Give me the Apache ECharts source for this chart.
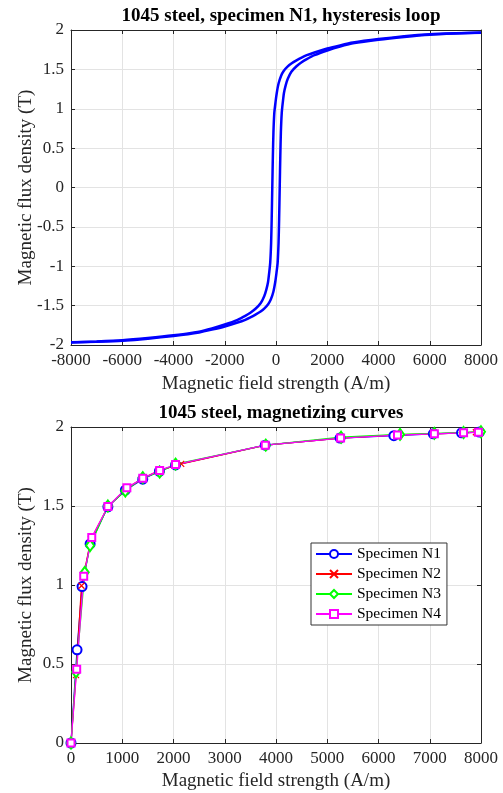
<!DOCTYPE html>
<html>
<head>
<meta charset="utf-8">
<title>1045 steel</title>
<script src="https://cdn.jsdelivr.net/npm/echarts@6/dist/echarts.min.js"></script>
<style>
  html, body { margin: 0; padding: 0; background: #fff; }
  #chart { width: 503px; height: 793px; }
</style>
</head>
<body>
<div id="chart"></div>
<script>
// hysteresis loop, specimen N1
const descH = [8000, 7000, 6000, 5000, 4000, 3000, 2500, 2000, 1500, 1200, 1000, 800, 600, 450, 300, 200, 100, 30, -20, -65, -100, -122, -145,
  -168, -190, -225, -265, -310, -380, -460, -600, -800, -1000, -1200, -1500, -2000, -2500, -3000, -4000, -5000, -6000, -7000, -8000];
const descB = [1.968, 1.958, 1.945, 1.92, 1.885, 1.84, 1.805, 1.765, 1.715, 1.68, 1.65, 1.615, 1.575, 1.535, 1.48, 1.42, 1.32, 1.2, 1.08, 0.95, 0.7, 0.4, 0,
  -0.4, -0.7, -0.95, -1.08, -1.2, -1.3, -1.38, -1.47, -1.54, -1.59, -1.63, -1.68, -1.74, -1.79, -1.83, -1.877, -1.912, -1.94, -1.955, -1.966];
const ascH = [-8000, -7000, -6000, -5000, -4000, -3000, -2500, -2000, -1500, -1200, -1000, -800, -600, -450, -300, -200, -100, -30, 20, 65, 100, 122, 145,
  168, 190, 225, 265, 310, 380, 460, 600, 800, 1000, 1200, 1500, 2000, 2500, 3000, 4000, 5000, 6000, 7000, 8000];
const ascB = [-1.968, -1.958, -1.945, -1.92, -1.885, -1.84, -1.805, -1.765, -1.715, -1.68, -1.65, -1.615, -1.575, -1.535, -1.48, -1.42, -1.32, -1.2, -1.08, -0.95, -0.7, -0.4, 0,
  0.4, 0.7, 0.95, 1.08, 1.2, 1.3, 1.38, 1.47, 1.54, 1.59, 1.63, 1.68, 1.74, 1.79, 1.83, 1.877, 1.912, 1.94, 1.955, 1.966];

// magnetizing curves
const n1H = [0, 118, 216, 373, 720, 1060, 1400, 1725, 2040, 3790, 5250, 6300, 7070, 7620, 7970];
const n1B = [0, 0.59, 0.99, 1.26, 1.495, 1.60, 1.67, 1.72, 1.76, 1.885, 1.93, 1.945, 1.957, 1.963, 1.968];
const n2H = [0, 98, 205, 390, 720, 1080, 1400, 1730, 2150, 3800, 5260, 6350, 7090, 7640, 7900];
const n2B = [0, 0.43, 0.995, 1.29, 1.495, 1.61, 1.675, 1.725, 1.767, 1.885, 1.93, 1.95, 1.957, 1.963, 1.967];
const n3H = [0, 98, 268, 373, 720, 1060, 1400, 1730, 2040, 3800, 5270, 6420, 7090, 7660, 8000];
const n3B = [0, 0.45, 1.08, 1.25, 1.50, 1.595, 1.68, 1.715, 1.765, 1.885, 1.935, 1.953, 1.96, 1.965, 1.97];
const n4H = [0, 111, 248, 405, 720, 1090, 1400, 1730, 2040, 3790, 5260, 6370, 7090, 7660, 7950];
const n4B = [0, 0.466, 1.056, 1.30, 1.497, 1.615, 1.675, 1.725, 1.762, 1.885, 1.93, 1.949, 1.957, 1.963, 1.967];

const seriesNames = ['Specimen N1', 'Specimen N2', 'Specimen N3', 'Specimen N4'];
const seriesColors = ['#0000ff', '#ff0000', '#00ff00', '#ff00ff'];

const zip = (xs, ys) => xs.map((x, i) => [x, ys[i]]);

const FONT = '"Liberation Serif", "Times New Roman", serif';
const INK = '#262626';
const GRIDC = '#e3e3e3';

function boxAxis (extra) {
  return Object.assign({
    type: 'value',
    axisLine: { show: true, onZero: false, lineStyle: { color: INK, width: 1 } },
    axisTick: { show: true, inside: true, length: 4, lineStyle: { color: INK } },
    axisLabel: { color: INK, fontSize: 17, fontFamily: FONT, margin: 7, formatter: (v) => String(v) },
    splitLine: { show: true, lineStyle: { color: GRIDC } },
    nameLocation: 'middle',
    nameTextStyle: { color: INK, fontSize: 19, fontFamily: FONT },
  }, extra);
}
function mirrorAxis (extra) {
  return boxAxis(Object.assign({
    axisLabel: { show: false },
    splitLine: { show: false },
  }, extra));
}

const chart = echarts.init(document.getElementById('chart'), null, { renderer: 'canvas' });

const markerOpts = [
  { symbol: 'emptyCircle', symbolSize: 9 },
  { symbol: 'path://M0,0L10,10M10,0L0,10', symbolSize: 6 },
  { symbol: 'emptyDiamond', symbolSize: [8, 11] },
  { symbol: 'emptyRect', symbolSize: 7 },
];
const curves = [zip(n1H, n1B), zip(n2H, n2B), zip(n3H, n3B), zip(n4H, n4B)];

chart.setOption({
  animation: false,
  backgroundColor: '#fff',
  title: [
    { text: '1045 steel, specimen N1, hysteresis loop', left: 276, textAlign: 'center', top: 2,
      textStyle: { fontFamily: FONT, fontSize: 19, fontWeight: 'bold', color: '#000' } },
    { text: '1045 steel, magnetizing curves', left: 276, textAlign: 'center', top: 399,
      textStyle: { fontFamily: FONT, fontSize: 19, fontWeight: 'bold', color: '#000' } },
  ],
  grid: [
    { left: 71, top: 30, width: 410, height: 315 },
    { left: 71, top: 427, width: 410, height: 316 },
  ],
  legend: {
    left: 311,
    top: 543,
    orient: 'vertical',
    itemWidth: 36,
    itemHeight: 10,
    itemGap: 4,
    padding: [3, 6, 3, 4],
    borderColor: '#333',
    borderWidth: 1,
    backgroundColor: '#fff',
    textStyle: { fontFamily: FONT, fontSize: 15.5, color: '#000' },
    data: seriesNames,
  },
  xAxis: [
    boxAxis({ gridIndex: 0, min: -8000, max: 8000, interval: 2000, name: 'Magnetic field strength (A/m)', nameGap: 30 }),
    boxAxis({ gridIndex: 1, min: 0, max: 8000, interval: 1000, name: 'Magnetic field strength (A/m)', nameGap: 29 }),
    mirrorAxis({ gridIndex: 0, position: 'top', min: -8000, max: 8000, interval: 2000 }),
    mirrorAxis({ gridIndex: 1, position: 'top', min: 0, max: 8000, interval: 1000 }),
  ],
  yAxis: [
    boxAxis({ gridIndex: 0, min: -2, max: 2, interval: 0.5, name: 'Magnetic flux density (T)', nameGap: 35, nameMoveOverlap: false }),
    boxAxis({ gridIndex: 1, min: 0, max: 2, interval: 0.5, name: 'Magnetic flux density (T)', nameGap: 35, nameMoveOverlap: false }),
    mirrorAxis({ gridIndex: 0, position: 'right', min: -2, max: 2, interval: 0.5 }),
    mirrorAxis({ gridIndex: 1, position: 'right', min: 0, max: 2, interval: 0.5 }),
  ],
  series: [
    { type: 'line', name: 'loop-desc', xAxisIndex: 0, yAxisIndex: 0, data: zip(descH, descB),
      showSymbol: false, smooth: 0.2, lineStyle: { color: '#0000ff', width: 2.5 } },
    { type: 'line', name: 'loop-asc', xAxisIndex: 0, yAxisIndex: 0, data: zip(ascH, ascB),
      showSymbol: false, smooth: 0.2, lineStyle: { color: '#0000ff', width: 2.5 } },
  ].concat(seriesNames.map((name, i) => ({
    type: 'line',
    name: name,
    xAxisIndex: 1,
    yAxisIndex: 1,
    data: curves[i],
    symbol: markerOpts[i].symbol,
    symbolSize: markerOpts[i].symbolSize,
    showAllSymbol: true,
    lineStyle: { color: seriesColors[i], width: 1.3 },
    itemStyle: { color: seriesColors[i], borderColor: seriesColors[i], borderWidth: 1.2 },
  }))),
});
</script>
</body>
</html>
